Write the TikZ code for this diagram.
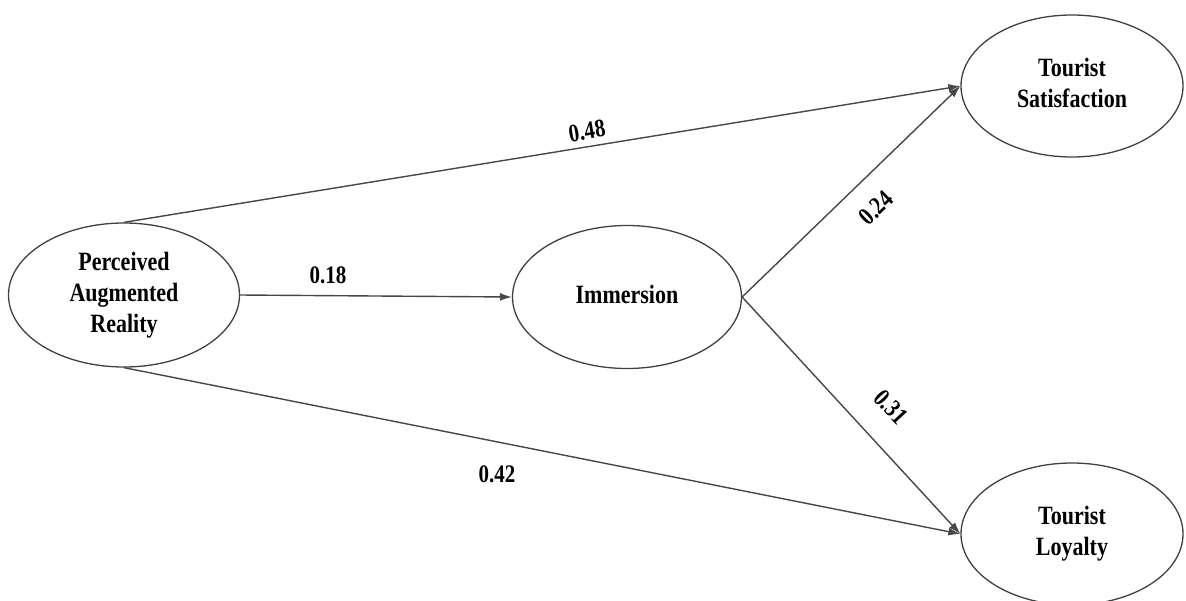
\documentclass[tikz,border=0pt]{standalone}
\usepackage{fontspec}
\usepackage{graphicx}
\setmainfont{Liberation Serif}
\usetikzlibrary{shapes.geometric,arrows.meta}
\tikzset{
  construct/.style={ellipse, draw=black!75, line width=1.3pt, inner sep=0pt,
    minimum width=229pt, minimum height=143pt,
    font=\fontsize{22}{26}\selectfont\bfseries, align=center},
  path/.style={draw=black!72, line width=1.4pt, -{Latex[length=12pt,width=8pt]}},
  lab/.style={font=\fontsize{21}{24}\selectfont\bfseries, inner sep=0pt}
}
\newcommand{\stretchtxt}[1]{\scalebox{1}[1.2]{\begin{tabular}{@{}c@{}}#1\end{tabular}}}
\begin{document}
\begin{tikzpicture}[x=1pt,y=-1pt]
\useasboundingbox (0,0) rectangle (1186,600);
\node[construct, minimum width=231pt, minimum height=144pt] (par) at (124,295) {\stretchtxt{Perceived\\Augmented\\Reality}};
\node[construct] (imm) at (627,297) {\stretchtxt{Immersion}};
\node[construct, minimum width=222pt, minimum height=142pt] (ts) at (1072,86) {\stretchtxt{Tourist\\Satisfaction}};
\node[construct, minimum width=222pt, minimum height=142pt] (tl) at (1072,534) {\stretchtxt{Tourist\\Loyalty}};
\draw[path] (par.north) -- (ts.west);
\draw[path] (par.east) -- (imm.west);
\draw[path] (par.south) -- (tl.west);
\draw[path] (imm.east) -- (ts.west);
\draw[path] (imm.east) -- (tl.west);
\node[lab, rotate=9.3] (l48) at (587,131) {\scalebox{1}[1.2]{0.48}};
\node[lab] (l18) at (328,275) {\scalebox{1}[1.2]{0.18}};
\node[lab] (l42) at (497,474) {\scalebox{1}[1.2]{0.42}};
\node[lab, rotate=44] (l24) at (876,208) {\scalebox{1}[1.2]{0.24}};
\node[lab, rotate=-47] (l31) at (891,407) {\scalebox{1}[1.2]{0.31}};
\end{tikzpicture}
\end{document}
